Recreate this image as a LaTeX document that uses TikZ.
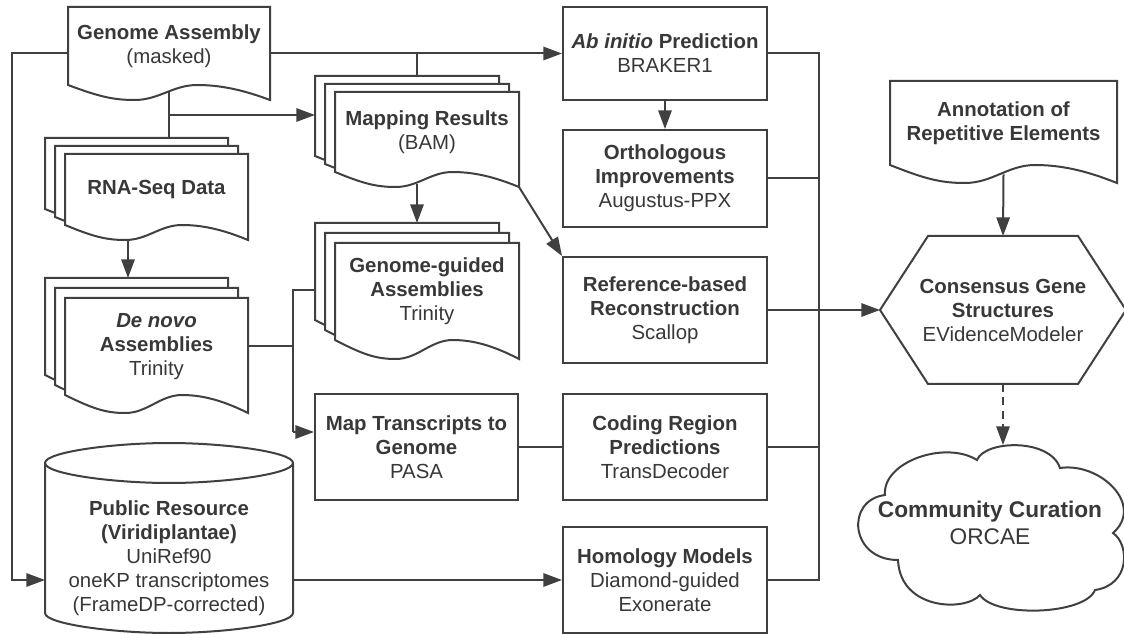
\documentclass[tikz,border=0pt]{standalone}
\usepackage{fontspec}
\setmainfont{Liberation Sans}
\usetikzlibrary{arrows.meta,calc}
\definecolor{lc}{HTML}{404040}
\definecolor{tc}{HTML}{383838}
\newcommand\fsz{\fontsize{15.3}{18}\selectfont}
\newcommand\fbig{\fontsize{17}{20.25}\selectfont}
\tikzset{
 ln/.style={draw=lc, line width=1.5pt},
 arr/.style={ln, -{Triangle[length=14pt,width=10pt]}},
 shp/.style={draw=lc, line width=1.5pt, fill=white},
 txt/.style={align=center, text=tc, font=\fsz, inner sep=0pt, outer sep=0pt},
 boxst/.style={txt, draw=lc, line width=1.5pt, fill=white, outer sep=0.75pt},
}
% style, name, L, T, R, B, text
\newcommand\placenode[7]{%
 \node[#1, minimum width={(#5-#3)*0.75pt}, minimum height={(#6-#4)*0.75pt}] (#2) at ({(#3+#5)/2},{(#4+#6)/2}) {#7};}
% L, T, R, y0, d
\newcommand\docshape[5]{%
 \pgfmathsetmacro\docL{#1}\pgfmathsetmacro\docT{#2}\pgfmathsetmacro\docR{#3}%
 \pgfmathsetmacro\docY{#4}\pgfmathsetmacro\docD{#5}\pgfmathsetmacro\docW{\docR-\docL}%
 \draw[shp] (\docL,\docT) -- (\docR,\docT) -- (\docR,{\docY+\docD})
  .. controls ({\docL+0.9*\docW},{\docY+0.5*\docD}) and ({\docL+0.78*\docW},\docY) .. ({\docL+0.64*\docW},\docY)
  .. controls ({\docL+0.52*\docW},\docY) and ({\docL+0.45*\docW},{\docY+\docD}) .. ({\docL+0.33*\docW},{\docY+\docD})
  .. controls ({\docL+0.22*\docW},{\docY+\docD}) and ({\docL+0.15*\docW},{\docY+0.75*\docD}) .. (\docL,\docY) -- cycle;}
% name, L, T, R, y0, d, text
\newcommand\docnode[7]{%
 \docshape{#2}{#3}{#4}{#5}{#6}%
 \placenode{txt}{#1}{#2}{#3}{#4}{#5}{#7}}
% name, L, T, R, y0, d, dx, dy, text
\newcommand\docstack[9]{%
 \docshape{#2-2*#7}{#3-2*#8}{#4-2*#7}{#5-2*#8}{#6}%
 \docshape{#2-#7}{#3-#8}{#4-#7}{#5-#8}{#6}%
 \docnode{#1}{#2}{#3}{#4}{#5}{#6}{#9}%
 \coordinate (#1-b) at ({#2-2*#7},{#3-2*#8});}

\begin{document}
\begin{tikzpicture}[x=0.75pt,y=-0.75pt]
\useasboundingbox (0,0) rectangle (1124,634);

% ---------- shapes ----------
\docnode{ga}{68}{7}{270}{85}{15}{\textbf{Genome Assembly}\\(masked)}
\docstack{rna}{65}{154}{248}{225}{15}{10}{8}{\textbf{RNA-Seq Data}}
\docstack{dn}{65}{298}{248}{395}{18}{10}{10}{\textbf{\textit{De novo}}\\\textbf{Assemblies}\\Trinity}
\docstack{map}{335}{92}{519}{172}{15}{10}{8}{\textbf{Mapping Results}\\(BAM)}
\docstack{gg}{335}{243}{519}{340}{19}{10}{10}{\textbf{Genome-guided}\\\textbf{Assemblies}\\Trinity}
\docnode{annot}{890}{81}{1117}{165}{18}{\textbf{Annotation of}\\\textbf{Repetitive Elements}}

\placenode{boxst}{abinitio}{563}{7}{767}{100}{\textbf{\textit{Ab initio} Prediction}\\BRAKER1}
\placenode{boxst}{ortho}{563}{130}{767}{227}{\textbf{Orthologous}\\\textbf{Improvements}\\Augustus-PPX}
\placenode{boxst}{ref}{563}{257}{767}{363}{\textbf{Reference-based}\\\textbf{Reconstruction}\\Scallop}
\placenode{boxst}{pasa}{315}{394}{518}{500}{\textbf{Map Transcripts to}\\\textbf{Genome}\\PASA}
\placenode{boxst}{coding}{563}{394}{767}{500}{\textbf{Coding Region}\\\textbf{Predictions}\\TransDecoder}
\placenode{boxst}{homol}{563}{527}{767}{633}{\textbf{Homology Models}\\Diamond-guided\\Exonerate}

% cylinder
\draw[shp] (45,463) -- (45,613)
  .. controls (45,624.05) and (113.5,633) .. (169,633)
  .. controls (224.5,633) and (293,624.05) .. (293,613) -- (293,463)
  .. controls (293,451.95) and (224.5,443) .. (169,443)
  .. controls (113.5,443) and (45,451.95) .. (45,463) -- cycle;
\draw[ln] (45,463) .. controls (45,474.05) and (113.5,483) .. (169,483)
  .. controls (224.5,483) and (293,474.05) .. (293,463);
\placenode{txt}{pub}{45}{497}{293}{620}{\textbf{Public Resource}\\\textbf{(Viridiplantae)}\\UniRef90\\oneKP transcriptomes\\(FrameDP-corrected)}

% hexagon
\draw[shp] (880,310) -- (928,236) -- (1078,236) -- (1126,310) -- (1078,384) -- (928,384) -- cycle;
\placenode{txt}{hex}{880}{236}{1126}{384}{\textbf{Consensus Gene}\\\textbf{Structures}\\EVidenceModeler}

% cloud
\draw[shp] (885,495) .. controls (882,462) and (945,440) .. (977,460)
 .. controls (985,440) and (1050,438) .. (1060,468)
 .. controls (1100,462) and (1145,505) .. (1113,533)
 .. controls (1130,545) and (1130,585) .. (1095,590)
 .. controls (1085,615) and (995,618) .. (980,595)
 .. controls (965,612) and (900,610) .. (898,560)
 .. controls (850,560) and (845,500) .. (885,495) -- cycle;
\placenode{txt,font=\fbig}{cloud}{857}{445}{1123}{601}{\textbf{Community Curation}\\ORCAE}

% ---------- connectors ----------
\coordinate (jl) at (12,53);
\draw[arr] (ga.west |- jl) -- (jl) |- (pub.west |- homol.west);
\draw[arr] (ga.east |- abinitio.west) -- (abinitio.west);
\coordinate (mapin) at (417,76);
\draw[ln] (mapin |- abinitio.west) -- (mapin);

\coordinate (gaout) at ([yshift=-5.5pt]ga.south);
\draw[ln] (gaout) -- (gaout |- rna-b);
\draw[arr] (gaout |- 0,115) -- (map-b |- 0,115);

\coordinate (rnaout) at ([shift={(63,15)}]rna.south west);
\draw[arr] (rnaout) -- (rnaout |- dn-b);

\coordinate (jv) at (293,290);
\coordinate (jv2) at (293,432);
\draw[ln] (dn.east) -- (dn.east -| jv);
\draw[ln] (gg-b |- jv) -- (jv) -- (jv2);
\draw[arr] (jv2) -- (pasa.west |- jv2);

\coordinate (mapout) at ([shift={(82,12)}]map.south west);
\draw[arr] (mapout) -- (mapout |- gg-b);
\draw[arr] ([shift={(0,15)}]map.south east) -- (ref.north west);

\draw[arr] (abinitio.south) -- (ortho.north);
\coordinate (bt) at (819,53.5);
\draw[ln] (abinitio.east) -- (bt) -- (bt |- homol.east) -- (homol.east);
\draw[ln] (ortho.east) -- (ortho.east -| bt);
\draw[ln] (coding.east) -- (coding.east -| bt);
\draw[arr] (ref.east) -- (hex.west);
\draw[ln] (pasa.east) -- (coding.west);
\draw[arr] (pub.east |- homol.west) -- (homol.west);

\draw[arr] ([yshift=-7pt]annot.south) -- (hex.north);
\draw[arr, dash pattern=on 6pt off 4pt] (hex.south) -- (hex.south |- cloud.north);
\end{tikzpicture}
\end{document}
